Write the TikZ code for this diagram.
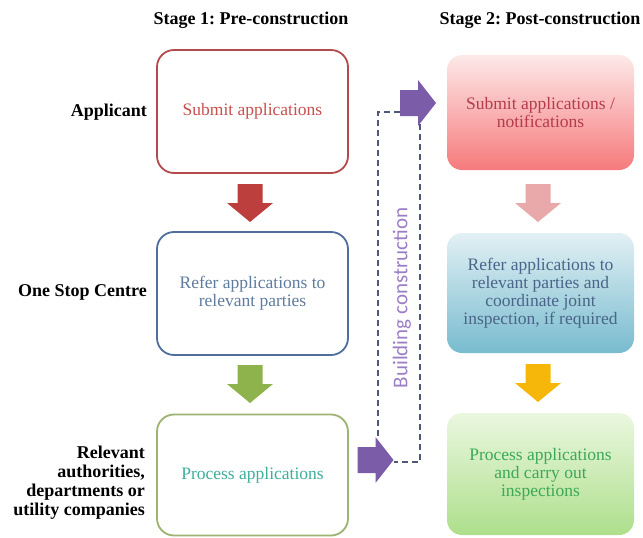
\documentclass[tikz,border=0pt]{standalone}
\usepackage{fontspec}
\setmainfont{Liberation Serif}
\newfontfamily\labelsans{Carlito}
\usetikzlibrary{calc}
\frenchspacing
\definecolor{redborder}{HTML}{B24A4E}
\definecolor{redtext}{HTML}{C8504F}
\definecolor{blueborder}{HTML}{4F6E9E}
\definecolor{bluetext}{HTML}{5F7C9E}
\definecolor{greenborder}{HTML}{9DB372}
\definecolor{greentext}{HTML}{3FAE9A}
\definecolor{redarrow}{HTML}{BC3F3D}
\definecolor{greenarrow}{HTML}{8EB24C}
\definecolor{purplearrow}{HTML}{7B5CA8}
\definecolor{pinkarrow}{HTML}{E9A8AA}
\definecolor{orangearrow}{HTML}{F6B60A}
\definecolor{dashc}{HTML}{505878}
\definecolor{buildtext}{HTML}{9C7EC6}
\definecolor{ronetop}{HTML}{FDE9E9}
\definecolor{ronebot}{HTML}{F67A7C}
\definecolor{ronetext}{HTML}{B33C4C}
\definecolor{rtwotop}{HTML}{E2F0F4}
\definecolor{rtwobot}{HTML}{78BBCF}
\definecolor{rtwotext}{HTML}{4A6588}
\definecolor{rthreetop}{HTML}{EAF7DF}
\definecolor{rthreebot}{HTML}{AEDF8C}
\definecolor{rthreetext}{HTML}{3DA858}
\begin{document}
\begin{tikzpicture}[x=1pt,y=-1pt,
  lbox/.style={draw, line width=1.8pt, rounded corners=17pt, minimum width=191pt,
    minimum height=123pt, fill=white, align=center, inner sep=2pt,
    font=\fontsize{17.5}{18}\selectfont},
  rbox/.style={rounded corners=15pt, minimum width=187pt, align=center, inner sep=2pt,
    font=\fontsize{17.5}{18}\selectfont},
  headtext/.style={font=\fontsize{18}{19}\selectfont\bfseries, inner sep=0pt},
  downblock/.pic={\fill (-12.5,-19) -- (12.5,-19) -- (12.5,0) -- (23,0) -- (0,19)
    -- (-23,0) -- (-12.5,0) -- cycle;},
  rightblock/.pic={\fill (-18,-13) -- (0,-13) -- (0,-23) -- (18,0) -- (0,23)
    -- (0,13) -- (-18,13) -- cycle;},
  dashline/.style={draw=dashc, line width=1.6pt, dash pattern=on 6pt off 4pt}
]
\useasboundingbox (0,0) rectangle (643,538);

% titles
\node[headtext] (t1) at (251,20) {Stage 1: Pre-construction};
\node[headtext] (t2) at (540,20) {Stage 2: Post-construction};

% row labels
\node[headtext, anchor=east] (l1) at (147,112) {Applicant};
\node[headtext, anchor=east] (l2) at (147,292) {One Stop Centre};
\node[headtext, anchor=east, align=right] (l3) at (145,483)
  {Relevant\\authorities,\\departments or\\utility companies};

% left boxes
\node[lbox, draw=redborder, text=redtext] (b1) at (252.5,111.5) {Submit applications};
\node[lbox, draw=blueborder, text=bluetext] (b2) at (252.5,293.5) {Refer applications to\\relevant parties};
\node[lbox, draw=greenborder, text=greentext, minimum height=121pt] (b3) at (252.5,475) {Process applications};

% right boxes
\node[rbox, minimum height=115pt, top color=ronetop, bottom color=ronebot, text=ronetext]
  (r1) at (540.5,112.5) {Submit applications /\\notifications};
\node[rbox, minimum height=120pt, top color=rtwotop, bottom color=rtwobot, text=rtwotext]
  (r2) at (540.5,293) {Refer applications to\\relevant parties and\\coordinate joint\\inspection, if required};
\node[rbox, minimum height=122pt, top color=rthreetop, bottom color=rthreebot, text=rthreetext]
  (r3) at (540.5,474) {Process applications\\and carry out\\inspections};

% down block arrows
\pic[color=redarrow] (a1) at (250,203) {downblock};
\pic[color=greenarrow] (a2) at (250,384) {downblock};
\pic[color=pinkarrow] (a3) at (538,203) {downblock};
\pic[color=orangearrow] (a4) at (538,383) {downblock};

% dashed building-construction loop
\coordinate (d1) at (400,112);
\coordinate (d2) at (378,112);
\coordinate (d3) at (378,440);
\coordinate (d4) at (420,124);
\coordinate (d5) at (420,462);
\coordinate (d6) at (394,462);
\draw[dashline] (d1) -- (d2) -- (d3);
\draw[dashline] (d4) -- (d5) -- (d6);

% purple block arrows
\pic[color=purplearrow] (pb) at (375.5,460) {rightblock};
\pic[color=purplearrow] (pt) at (418,103) {rightblock};

\node[rotate=90, text=buildtext, font=\labelsans\fontsize{21}{22}\selectfont] (bc) at (402,298) {Building construction};
\end{tikzpicture}
\end{document}
